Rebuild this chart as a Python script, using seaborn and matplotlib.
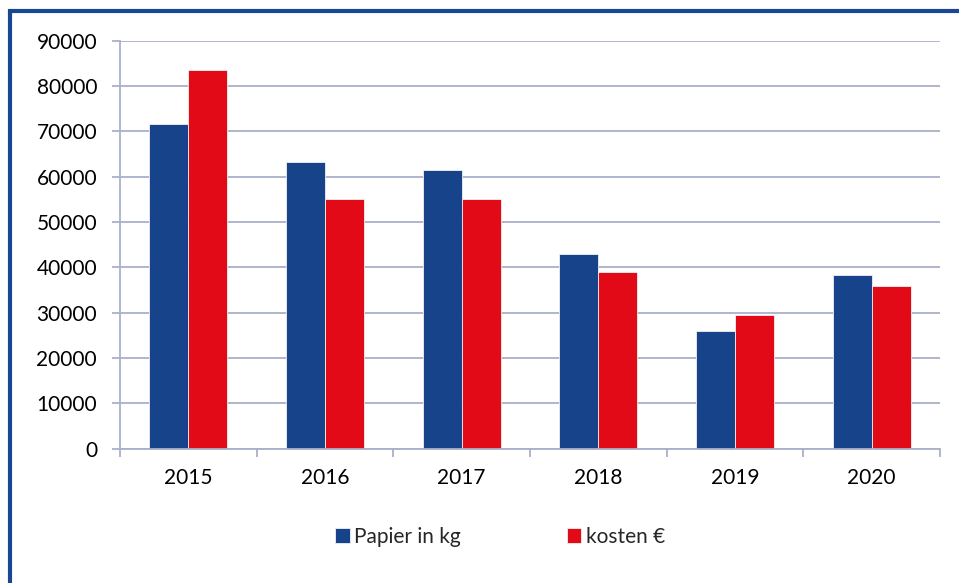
import matplotlib
matplotlib.use('Agg')
import matplotlib.pyplot as plt
from matplotlib.patches import Rectangle
import seaborn as sns
import pandas as pd

# werte
jahre = ['2015', '2016', '2017', '2018', '2019', '2020']
papier_kg = [71700, 63300, 61500, 43000, 25900, 38300]
kosten_eur = [83500, 55100, 55100, 38900, 29500, 36000]
serien = ['Papier in kg', 'kosten €']
farben = ['#17438b', '#e30a17']
y_ticks = [0, 10000, 20000, 30000, 40000, 50000, 60000, 70000, 80000, 90000]

df = pd.DataFrame({
    'jahr': jahre * 2,
    'wert': papier_kg + kosten_eur,
    'serie': [serien[0]] * len(jahre) + [serien[1]] * len(jahre),
})

sns.set_style('white')
plt.rcParams['font.family'] = ['Lato', 'DejaVu Sans']
gitter = '#a9b0c9'

fig = plt.figure(figsize=(9.59, 5.83), dpi=100)
ax = fig.add_axes([120 / 959, 1 - 448.7 / 583, (940 - 120) / 959, (448.7 - 40.7) / 583])

sns.barplot(data=df, x='jahr', y='wert', hue='serie', palette=farben, saturation=1,
            width=0.57, gap=0, edgecolor='#f2f2f2', linewidth=0.6, ax=ax)

ax.set_ylim(0, 90000)
ax.set_xlim(-0.5, len(jahre) - 0.5)
ax.set_yticks(y_ticks)
ax.set_yticklabels([str(v) for v in y_ticks])
ax.set_xlabel('')
ax.set_ylabel('')

ax.yaxis.grid(True, color=gitter, linewidth=1.3)
ax.set_axisbelow(True)
for s in ['top', 'right']:
    ax.spines[s].set_visible(False)
for s in ['left', 'bottom']:
    ax.spines[s].set_color(gitter)
    ax.spines[s].set_linewidth(1.3)

ax.tick_params(axis='y', length=6, width=1.3, color=gitter, pad=10.5, labelsize=15, labelcolor='black', left=True)
ax.tick_params(axis='x', which='major', length=0, pad=14, labelsize=15, labelcolor='black')
ax.set_xticks([i - 0.5 for i in range(len(jahre) + 1)], minor=True)
ax.tick_params(axis='x', which='minor', length=6, width=1.3, color=gitter, bottom=True)

handles, labels = ax.get_legend_handles_labels()
ax.get_legend().remove()
fig.legend(handles, labels, loc='center', bbox_to_anchor=(500 / 959, 1 - 537 / 583),
           ncol=2, frameon=False, fontsize=15, handlelength=0.7, handleheight=0.7,
           handletextpad=0.2, columnspacing=5.1)

# blauer rahmen (rechts und unten abgeschnitten)
fig.patches.append(Rectangle((10 / 959, -0.2), 2, 1.2 - 11 / 583, transform=fig.transFigure,
                             fill=False, edgecolor='#1a4793', linewidth=3))

fig.savefig('out.png', dpi=100)
